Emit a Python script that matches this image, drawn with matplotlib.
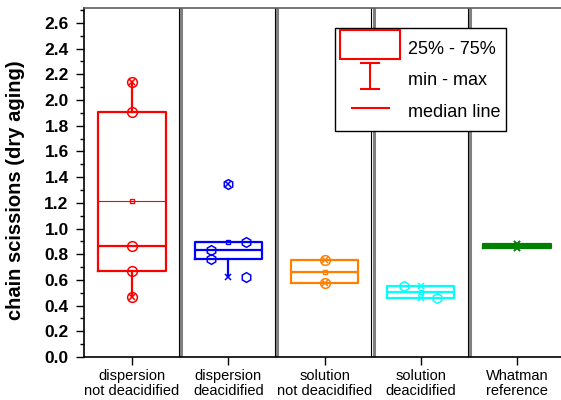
#!/usr/bin/env python3

"""Box chart of chain scissions (dry aging) for the five paper treatments."""

import numpy as np
import matplotlib
matplotlib.use('Agg')
import matplotlib.pyplot as plt
from matplotlib.patches import Rectangle
from matplotlib.lines import Line2D
from matplotlib.legend_handler import HandlerBase

plt.rcParams['font.family'] = ['Liberation Sans', 'DejaVu Sans']

CATEGORIES = ['dispersion\nnot deacidified', 'dispersion\ndeacidified',
              'solution\nnot deacidified', 'solution\ndeacidified',
              'Whatman\nreference']
COLORS = ['#ff0000', '#0000ff', '#ff8000', '#00ffff', '#008000']
MARKERS = ['o', 'h', 'o', 'h', 'x']

# measured chain scissions per sample
DISP_NOT_DEACID = [2.14, 1.91, 0.866, 0.67, 0.47]
DISP_DEACID = [1.344, 0.897, 0.83, 0.765, 0.625]
SOL_NOT_DEACID = [0.755, 0.573]
SOL_DEACID = [0.553, 0.462]
WHATMAN = [0.882, 0.846]
GROUPS = [DISP_NOT_DEACID, DISP_DEACID, SOL_NOT_DEACID, SOL_DEACID, WHATMAN]

# sideways shift of the individual points (layout only)
POINT_SHIFT = [[0, 0, 0, 0, 0],
               [0, 0.18, -0.18, -0.18, 0.18],
               [0, 0],
               [-0.17, 0.17],
               [0, 0]]


def box_stats(values):
    """quartiles like Origin: lower/upper neighbour, 1.5 IQR whiskers"""
    v = np.asarray(values)
    q1 = np.percentile(v, 25, method='lower')
    q3 = np.percentile(v, 75, method='higher')
    iqr = q3 - q1
    inside = v[(v >= q1 - 1.5 * iqr) & (v <= q3 + 1.5 * iqr)]
    return {'med': np.median(v), 'q1': q1, 'q3': q3,
            'whislo': inside.min(), 'whishi': inside.max(),
            'mean': v.mean(), 'fliers': []}


class LegendSymbol(HandlerBase):
    """Origin style legend symbols: box, I-bar or short line"""
    def __init__(self, kind):
        super().__init__()
        self.kind = kind

    def create_artists(self, legend, orig_handle, xdescent, ydescent,
                       width, height, fontsize, trans):
        col = orig_handle.get_color()
        lw = orig_handle.get_linewidth()
        x0 = -xdescent
        xc = x0 + width / 2
        yc = height / 2 - ydescent + 0.2 * fontsize
        if self.kind == 'box':
            return [Rectangle((x0, yc - height / 2), width, height, facecolor='none',
                              edgecolor=col, linewidth=lw, transform=trans)]
        if self.kind == 'bar':
            h = 0.72 * fontsize
            c = 6.5
            return [Line2D([xc, xc], [yc - h, yc + h], color=col, linewidth=lw, transform=trans),
                    Line2D([xc - c, xc + c], [yc + h, yc + h], color=col, linewidth=lw, transform=trans),
                    Line2D([xc - c, xc + c], [yc - h, yc - h], color=col, linewidth=lw, transform=trans)]
        return [Line2D([x0 + 0.19 * width, x0 + 0.81 * width], [yc, yc],
                       color=col, linewidth=lw, transform=trans)]


fig = plt.figure(figsize=(5.61, 4.0), dpi=100)
ax = fig.add_axes([84 / 561, 43 / 400, 481 / 561, 349 / 400])

positions = np.arange(1, len(GROUPS) + 1)
for pos, vals, col, mk, shift in zip(positions, GROUPS, COLORS, MARKERS, POINT_SHIFT):
    st = box_stats(vals)
    ax.bxp([st], positions=[pos], widths=0.7, showfliers=False, showcaps=False,
           boxprops=dict(color=col, linewidth=1.6),
           whiskerprops=dict(color=col, linewidth=1.6),
           medianprops=dict(color=col, linewidth=1.6))
    # mean line and mean marker
    ax.hlines(st['mean'], pos - 0.35, pos + 0.35, color=col, linewidth=0.8)
    ax.plot(pos, st['mean'], marker='s', markersize=3.5, mfc='none', mec=col, mew=1)
    # individual data points
    ax.plot(pos + np.array(shift), vals, linestyle='none', marker=mk,
            markersize=7 if mk != 'x' else 4, mfc='none', mec=col, mew=1.1)
    # min / max markers
    ax.plot([pos, pos], [min(vals), max(vals)], linestyle='none', marker='x',
            markersize=5 if mk != 'x' else 4, mec=col, mew=1.1)

# panel separators
for b in positions[:-1] + 0.5:
    ax.axvline(b - 0.012, color='black', linewidth=0.8)
    ax.axvline(b + 0.01, color='#808080', linewidth=2.2)

ax.set_xlim(0.5, 5.5)
ax.set_ylim(0, 2.716)
ax.set_xticks(positions)
ax.set_xticklabels(CATEGORIES, fontsize=10.5, linespacing=1.1)
ax.set_yticks(np.arange(0, 2.61, 0.2))
ax.set_yticklabels([f'{t:.1f}' for t in np.arange(0, 2.61, 0.2)],
                   fontsize=12.5, fontweight='bold')
ax.set_yticks(np.arange(0.1, 2.71, 0.2), minor=True)
ax.tick_params(axis='x', direction='out', length=6, width=1, pad=2.5)
ax.tick_params(axis='y', which='major', direction='out', length=6, width=1, pad=5)
ax.tick_params(axis='y', which='minor', direction='out', length=3, width=1)
ax.set_ylabel('chain scissions (dry aging)', fontsize=14.5, fontweight='bold')
ax.yaxis.set_label_coords(-0.122, 0.478)
for sp in ax.spines.values():
    sp.set_linewidth(1.2)
ax.spines['top'].set_color('#606060')

# legend
box_h = Line2D([], [], color='red', linewidth=1.5)
whisk_h = Line2D([], [], color='red', linewidth=1.5)
med_h = Line2D([], [], color='red', linewidth=1.5)
leg = ax.legend([box_h, whisk_h, med_h], ['25% - 75%', 'min - max', 'median line'],
                loc='upper left', bbox_to_anchor=(0.522, 0.943), borderaxespad=0,
                fontsize=13, fancybox=False, framealpha=1, edgecolor='black',
                handlelength=3.3, handleheight=2.1, labelspacing=0.15,
                handletextpad=0.45, borderpad=0.3,
                handler_map={box_h: LegendSymbol('box'),
                             whisk_h: LegendSymbol('bar'),
                             med_h: LegendSymbol('line')})
leg.get_frame().set_linewidth(1.0)

plt.savefig('out.png', dpi=100)
